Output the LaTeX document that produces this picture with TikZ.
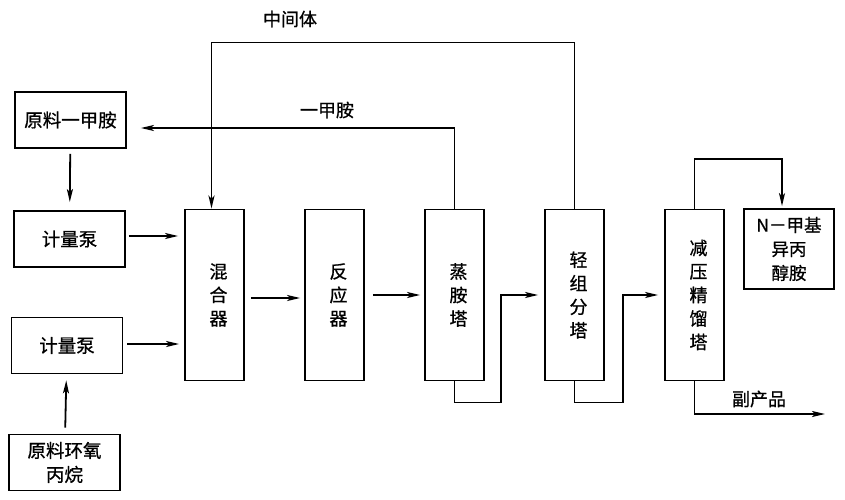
\documentclass[tikz,border=0pt]{standalone}
\usepackage{fontspec}
\setmainfont{Noto Sans CJK SC}[FakeBold=0.8]
\usepackage{tikz}
\usetikzlibrary{arrows.meta, positioning}
\tikzstyle{feed} = [rectangle, minimum width=111pt, minimum height=56pt, text centered, draw=black, line width=1.8pt, fill=white, font=\fontsize{18.5}{24}\selectfont]
\tikzstyle{tower} = [rectangle, minimum width=59pt, minimum height=171pt, text width=1em, align=center, draw=black, line width=1.8pt, fill=white, font=\fontsize{18}{23.5}\selectfont]
\tikzstyle{arrow} = [line width=1.8pt, -{Stealth[length=13pt,width=6pt,inset=3pt]}]
\tikzstyle{tag} = [font=\fontsize{18}{20}\selectfont]

\begin{document}
\begin{tikzpicture}[x=1pt, y=-1pt, node distance=120pt]
\useasboundingbox (0,0) rectangle (845,500);

\node (amine) [feed] at (70.5,120) {原料一甲胺};
\node (pump1) [feed] at (69.5,239) {计量泵};
\node (pump2) [feed] at (67,345.5) {计量泵};
\node (epoxy) [feed, align=center] at (64.5,462.5) {原料环氧\\丙烷};

\node (mixer) [tower] at (214.5,295) {混\\合\\器};
\node (reactor) [tower, right of=mixer] {反\\应\\器};
\node (stripper) [tower, right of=reactor] {蒸\\胺\\塔};
\node (lights) [tower, right of=stripper] {轻\\组\\分\\塔};
\node (vacuum) [tower, right of=lights] {减\\压\\精\\馏\\塔};
\node (product) [feed, minimum width=90pt, minimum height=80pt, align=center, font=\fontsize{17.5}{24}\selectfont] at (789,249) {N－甲基\\异丙\\醇胺};

\coordinate (byout) at (825,414);
\node (midlabel) [tag] at (290,19) {中间体};
\node (aminelabel) [tag] at (327,110) {一甲胺};
\node (bylabel) [tag] at (759,399) {副产品};

\draw [arrow, shorten <=5pt, shorten >=8pt] (amine) -- (pump1);
\draw [arrow, shorten <=6pt, shorten >=6pt] (epoxy) -- (pump2);
\draw [arrow, shorten <=3pt, shorten >=6pt] ([yshift=3pt]pump1.east) -- ([yshift=3pt]pump1.east -| mixer.west);
\draw [arrow, shorten <=4pt, shorten >=5pt] ([yshift=1.5pt]pump2.east) -- ([yshift=1.5pt]pump2.east -| mixer.west);
\draw [arrow, shorten <=6pt, shorten >=4pt] ([yshift=-3pt]mixer.east) -- ([yshift=-3pt]reactor.west);
\draw [arrow, shorten <=8pt, shorten >=4pt] (reactor) -- (stripper);

\draw [arrow, shorten >=6pt] (stripper.south) -- ++(0,21) -| ([xshift=16pt]stripper.east) -- (lights.west);
\draw [arrow, shorten >=6pt] (lights.south) -- ++(0,21) -| ([xshift=18pt]lights.east) -- (vacuum.west);
\draw [arrow] (vacuum.south) |- (byout);
\draw [arrow, shorten >=2pt] (vacuum.north) -- ++(0,-50) -| ([xshift=-7pt]product.north);

\draw [arrow] (lights.north) -- ++(0,-166) -| ([xshift=-3pt]mixer.north);
\draw [arrow, shorten >=14pt] (stripper.north) |- ([yshift=-8pt]amine.east);

\end{tikzpicture}
\end{document}
